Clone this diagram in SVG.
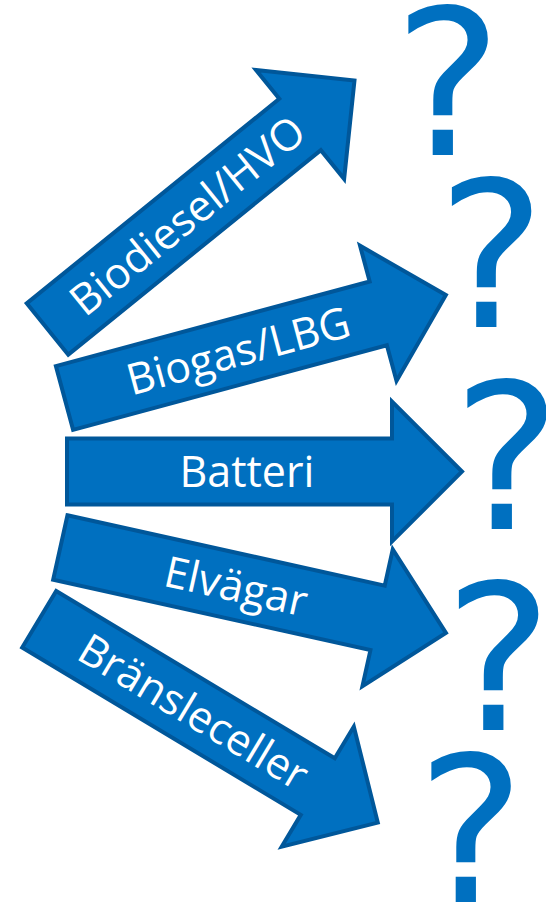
<svg xmlns="http://www.w3.org/2000/svg" width="546" height="905" viewBox="0 0 546 905">
  <defs>
    <style>
      .arrow { fill: #0070C0; stroke: #00579A; stroke-width: 4; stroke-linejoin: miter; }
      .label { fill: #FFFFFF; font-family: "Open Sans", "Noto Sans", "DejaVu Sans", sans-serif; font-size: 43px; text-anchor: middle; }
      .q { fill: #0070C0; font-family: "DejaVu Sans", "Open Sans", sans-serif; font-size: 204px; text-anchor: middle; }
    </style>
    <path id="arrowShape" d="M0,-33 L325,-33 L325,-70 L395,0 L325,70 L325,33 L0,33 Z"/>
  </defs>
  <rect width="546" height="905" fill="#FFFFFF"/>

  <g id="connectors"></g>

  <g id="arrow-biodiesel" transform="translate(47.5,329) rotate(-39)">
    <use href="#arrowShape" class="arrow"/>
    <text class="label" x="180" y="15">Biodiesel/HVO</text>
  </g>
  <g id="arrow-biogas" transform="translate(64.5,398) rotate(-15.1)">
    <use href="#arrowShape" class="arrow"/>
    <text class="label" x="180" y="15">Biogas/LBG</text>
  </g>
  <g id="arrow-batteri" transform="translate(67,471.5) rotate(0)">
    <use href="#arrowShape" class="arrow"/>
    <text class="label" x="180" y="15">Batteri</text>
  </g>
  <g id="arrow-elvagar" transform="translate(60.3,547.5) rotate(12.5)">
    <use href="#arrowShape" class="arrow"/>
    <text class="label" x="180" y="15">Elvägar</text>
  </g>
  <g id="arrow-bransleceller" transform="translate(39.2,619.2) rotate(31)">
    <use href="#arrowShape" class="arrow"/>
    <text class="label" x="180" y="15">Bränsleceller</text>
  </g>

  <g id="q1"><text class="q" x="448" y="155">?</text></g>
  <g id="q2"><text class="q" x="491.5" y="327">?</text></g>
  <g id="q3"><text class="q" x="507" y="529">?</text></g>
  <g id="q4"><text class="q" x="498.5" y="730">?</text></g>
  <g id="q5"><text class="q" x="471" y="902">?</text></g>
</svg>
